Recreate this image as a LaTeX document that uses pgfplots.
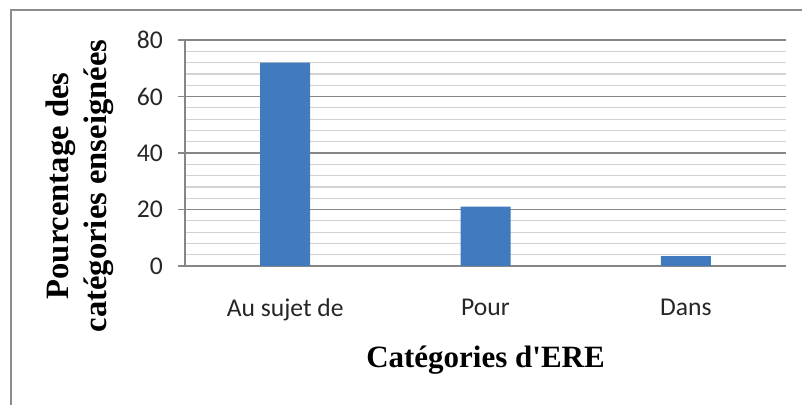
\documentclass[border=0pt]{standalone}
\usepackage{fontspec}
\setmainfont{Liberation Serif}[Ligatures=TeXOff]
\newfontfamily\calibri{Carlito}
\usepackage{pgfplots}
\pgfplotsset{compat=1.18}
\definecolor{barblue}{RGB}{65,122,190}
\definecolor{gridmaj}{RGB}{134,134,134}
\definecolor{gridmin}{RGB}{210,210,210}
\definecolor{framegray}{RGB}{140,140,140}

\begin{document}
\begin{tikzpicture}
\useasboundingbox (0,0) rectangle (401pt,-202.5pt);
% chart frame (only top and left edges visible)
\draw[framegray, line width=1.1pt] (5.5pt,-202.5pt) -- (5.5pt,-5pt) -- (401pt,-5pt);
\begin{axis}[
    at={(92.5pt,-133pt)}, anchor=south west,
    scale only axis, width=300.5pt, height=113pt,
    xmin=-0.5, xmax=2.5, ymin=0, ymax=80,
    xtick={0,1,2}, xticklabels={Au sujet de, Pour, Dans},
    ytick={0,20,...,80}, minor y tick num=4,
    ymajorgrids, yminorgrids,
    major grid style={gridmaj, line width=0.6pt},
    minor grid style={gridmin, line width=0.6pt},
    axis x line*=bottom, axis y line*=left,
    axis line style={-, gridmaj, line width=0.6pt},
    xtick style={draw=none},
    ytick style={gridmaj, line width=0.6pt},
    tick align=outside, major tick length=3.5pt, minor tick length=0pt,
    /pgf/number format/assume math mode=true,
    ticklabel style={font=\calibri\fontsize{12.8}{15}\selectfont, text=black!85},
    yticklabel style={xshift=-4pt},
    xticklabel style={yshift=-9.5pt},
    xlabel={\textbf{Catégories d'ERE}},
    xlabel style={at={(axis description cs:0.5,-0.416)}, anchor=center,
        font=\fontsize{15.5}{18}\selectfont},
    ylabel={\textbf{Pourcentage des}\\\textbf{catégories enseignées}},
    ylabel style={at={(axis description cs:-0.1747,0.354)}, anchor=center,
        align=center, font=\fontsize{16.3}{19}\selectfont},
]
\addplot[ybar, bar width=25pt, fill=barblue, draw=none] coordinates {
    (0,72) (1,21) (2,3.5)
};
\end{axis}
\end{tikzpicture}
\end{document}
